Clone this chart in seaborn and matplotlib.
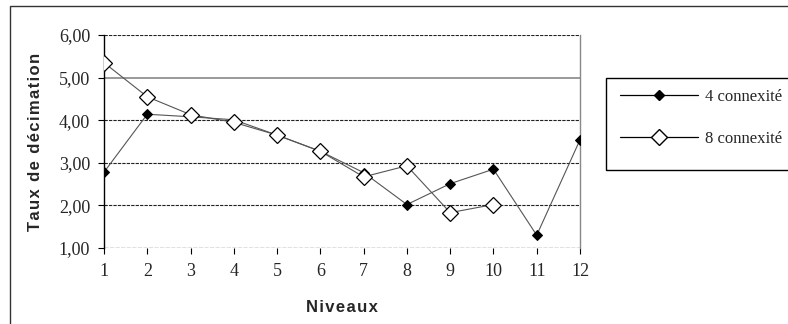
import matplotlib
matplotlib.use("Agg")
import matplotlib.pyplot as plt
import seaborn as sns
import pandas as pd
from matplotlib.patches import Rectangle
from matplotlib.lines import Line2D
from matplotlib.ticker import FuncFormatter

niveaux_4 = [1, 2, 3, 4, 5, 6, 7, 8, 9, 10, 11, 12]
taux_4 = [2.78, 4.14, 4.08, 4.01, 3.65, 3.27, 2.77, 2.02, 2.51, 2.85, 1.30, 3.54]
niveaux_8 = [1, 2, 3, 4, 5, 6, 7, 8, 9, 10]
taux_8 = [5.35, 4.55, 4.13, 3.95, 3.65, 3.27, 2.67, 2.93, 1.83, 2.02]
labels = ["4 connexité", "8 connexité"]
yticks = [1, 2, 3, 4, 5, 6]
xticks = list(range(1, 13))
xlabel = "Niveaux"
ylabel = "Taux de décimation"

sns.set_theme(style="white")
plt.rcParams["font.family"] = ["Liberation Serif", "DejaVu Serif"]

def spaced(s):
    return "\u200a".join(s)

fig = plt.figure(figsize=(7.88, 3.24), dpi=100)
ax = fig.add_axes([104/788, 1-248/324, (580-104)/788, (248-35)/324])

df4 = pd.DataFrame({"Niveaux": niveaux_4, "Taux": taux_4})
df8 = pd.DataFrame({"Niveaux": niveaux_8, "Taux": taux_8})

sns.lineplot(data=df4, x="Niveaux", y="Taux", ax=ax, color="#555555", lw=0.8,
             marker="D", markersize=5, markerfacecolor="black", markeredgecolor="black", zorder=3)
sns.lineplot(data=df8, x="Niveaux", y="Taux", ax=ax, color="#555555", lw=0.8,
             marker="D", markersize=8, markerfacecolor="white", markeredgecolor="black",
             markeredgewidth=0.9, zorder=4)

ax.set_xlim(1, 12)
ax.set_ylim(1, 6)
ax.set_xticks(xticks)
ax.set_yticks(yticks)
ax.yaxis.set_major_formatter(FuncFormatter(lambda v, p: f"{v:.2f}".replace(".", ",")))

for y in yticks:
    if y == 5:
        ax.axhline(y, color="#888888", lw=1.2, ls="-", zorder=1)
    elif y == 1:
        ax.axhline(y, color="#666666", lw=1.0, ls=(0, (3, 1)), zorder=1)
    else:
        ax.axhline(y, color="#222222", lw=0.8, ls=(0, (3, 1)), zorder=1)

for s in ["top", "bottom"]:
    ax.spines[s].set_visible(False)
ax.spines["left"].set_color("black")
ax.spines["left"].set_linewidth(1.0)
ax.spines["right"].set_color("#888888")
ax.spines["right"].set_linewidth(1.0)

ax.tick_params(axis="x", bottom=True, length=4, width=0.8, color="black",
               labelsize=13, pad=7)
ax.tick_params(axis="y", left=True, length=4, width=0.8, color="black",
               labelsize=13, pad=6)

lab_font = dict(family=["Liberation Sans", "DejaVu Sans"], weight="bold", size=12)
ax.set_xlabel(spaced(xlabel), fontdict=lab_font, labelpad=14)
ax.set_ylabel(spaced(ylabel), fontdict=lab_font, labelpad=11)

# figure border
fig.patches.append(Rectangle((10/788, -0.1), 1.1, 0.1 + 1 - 6/324,
                             transform=fig.transFigure, fill=False,
                             edgecolor="#333333", lw=1.0, clip_on=False))
# legend frame
fig.patches.append(Rectangle((606/788, 1-170/324), 1.0, (170-78)/324,
                             transform=fig.transFigure, fill=False,
                             edgecolor="black", lw=1.0, clip_on=False))

handles = [
    Line2D([], [], color="black", lw=0.9, marker="D", markersize=5,
           markerfacecolor="black", markeredgecolor="black"),
    Line2D([], [], color="black", lw=0.9, marker="D", markersize=8,
           markerfacecolor="white", markeredgecolor="black"),
]
fig.legend(handles, labels, loc="upper left", bbox_to_anchor=(620/788, 1-89/324),
           frameon=False, fontsize=12, handlelength=4.7, handletextpad=0.4,
           labelspacing=1.55, borderaxespad=0, borderpad=0)

fig.savefig("out.png", dpi=100)
